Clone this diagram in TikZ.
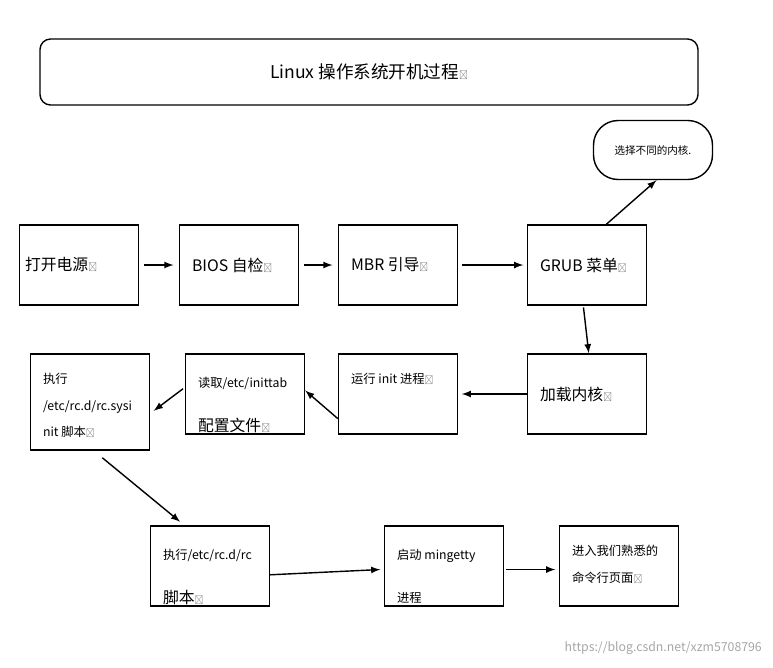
\documentclass[tikz,border=0pt]{standalone}
\usepackage{fontspec}
\setmainfont{Noto Sans CJK SC}
\usetikzlibrary{positioning}
\tikzset{
  box/.style={draw,thick,minimum width=119*0.02cm,minimum height=80*0.02cm,inner sep=0pt},
  txt/.style={anchor=west,font=\fontsize{9}{11}\selectfont,align=left},
  stxt/.style={anchor=west,font=\fontsize{7}{15}\selectfont,align=left},
  ret/.style={font=\fontsize{5}{5}\selectfont,text=gray},
  arr/.style={thick,-latex}
}
\newcommand{\rt}{{\fontsize{5}{5}\selectfont\color{gray}↵}}
\begin{document}
\begin{tikzpicture}[x=0.02cm,y=-0.02cm]
\useasboundingbox (0,0) rectangle (773,667);
% title
\node[draw,rounded corners=6pt,thick,minimum width=658*0.02cm,minimum height=66*0.02cm] (title) at (369,72)
  {\fontsize{10}{12}\selectfont Linux 操作系统开机过程\rt};
\node[draw,thick,rounded corners=14pt,minimum width=119*0.02cm,minimum height=59*0.02cm,
  font=\fontsize{6}{7}\selectfont] (kern) at (653,150) {选择不同的内核.};
% first row
\node[box] (power) at (79,265) {};
\node[txt] at (power.west) {打开电源\rt};
\node[box] (bios) at (239,265) {};
\node[txt] at ([xshift=4]bios.west) {BIOS 自检\rt};
\node[box] (mbr) at (398,265) {};
\node[txt] at ([xshift=4]mbr.west) {MBR 引导\rt};
\node[box] (grub) at (587,265) {};
\node[txt] at ([xshift=4]grub.west) {GRUB 菜单\rt};
% second row
\node[box] (load) at (587,394) {};
\node[txt] at ([xshift=4]load.west) {加载内核\rt};
\node[box] (init) at (398,394) {};
\node[stxt,anchor=north west] at ([xshift=4,yshift=-8]init.north west) {运行 init 进程\rt};
\node[box] (tab) at (245,394) {};
\node[stxt,anchor=north west] at ([xshift=4,yshift=-10]tab.north west) {读取/etc/inittab};
\node[txt] at ([xshift=4,yshift=-18]tab.west) {配置文件\rt};
\node[box,minimum height=96*0.02cm] (sysinit) at (90,402) {};
\node[stxt,anchor=north west] at ([xshift=4,yshift=-8]sysinit.north west) {执行\\/etc/rc.d/rc.sysi\\nit 脚本\rt};
% third row
\node[box] (rc) at (210,566) {};
\node[stxt,anchor=north west] at ([xshift=4,yshift=-10]rc.north west) {执行/etc/rc.d/rc};
\node[txt] at ([xshift=4,yshift=-18]rc.west) {脚本\rt};
\node[box] (getty) at (444,566) {};
\node[stxt,anchor=north west] at ([xshift=4,yshift=-10]getty.north west) {启动 mingetty};
\node[stxt] at ([xshift=4,yshift=-18]getty.west) {进程};
\node[box] (cmd) at (619,566) {};
\node[stxt,anchor=north west] at ([xshift=4,yshift=-8]cmd.north west) {进入我们熟悉的\\命令行页面\rt};
% arrows
\draw[arr] ([xshift=3]power.east) -- ([xshift=-3]bios.west);
\draw[arr] ([xshift=3]bios.east) -- ([xshift=-3]mbr.west);
\draw[arr] ([xshift=2]mbr.east) -- ([xshift=-2]grub.west);
\draw[arr] ([xshift=11]grub.north) -- ([xshift=2]kern.south);
\draw[arr] ([xshift=-2,yshift=-1]grub.south) -- ([xshift=1]load.north);
\draw[arr] (load.west) -- ([xshift=2]init.east);
\draw[arr] ([yshift=-14]init.west) -- ([yshift=2]tab.east);
\draw[arr] ([xshift=-1,yshift=3]tab.west) -- ([xshift=2,yshift=-5]sysinit.east);
\draw[arr] ([xshift=7,yshift=-4]sysinit.south) -- ([xshift=-17,yshift=2]rc.north);
\draw[arr] ([yshift=-5]rc.east) -- ([xshift=-2,yshift=-2]getty.west);
\draw[arr] ([xshift=1,yshift=-2]getty.east) -- ([xshift=-2,yshift=-2]cmd.west);
\node[font=\fontsize{7}{8}\selectfont,text=gray!70,anchor=east] (wm) at (768,648) {https://blog.csdn.net/xzm5708796};
\end{tikzpicture}
\end{document}
